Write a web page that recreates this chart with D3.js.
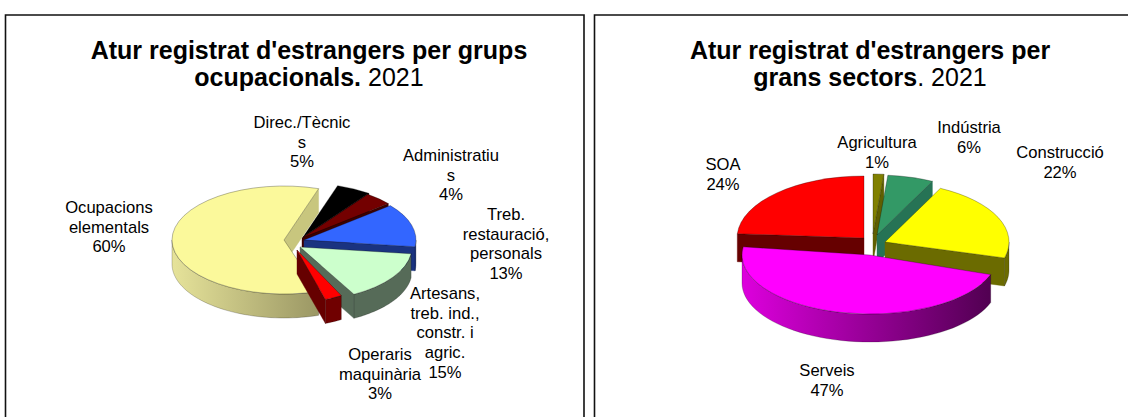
<!DOCTYPE html>
<html><head><meta charset="utf-8">
<script src="https://cdn.jsdelivr.net/npm/d3@7/dist/d3.min.js"></script>
<style>html,body{margin:0;padding:0;background:#fff}svg{display:block}text{font-family:"Liberation Sans",Arial,sans-serif;fill:#000}</style>
</head><body><svg id="c" width="1128" height="417"></svg>
<script>
const occupationCategories = ["Direc./Tècnics","Administratius","Treb. restauració, personals","Artesans, treb. ind., constr. i agric.","Operaris maquinària","Ocupacions elementals"];
const occupationValues = [5,4,13,15,3,60];
const sectorCategories = ["Agricultura","Indústria","Construcció","Serveis","SOA"];
const sectorValues = [1.4,6,22,47,24];

const occupationStyle = [
 {top:"#000000",cut:"#000000",w0:"#000000",w1:"#000000",ax:303,ay:237},
 {top:"#730000",cut:"#3c0000",w0:"#3c0000",w1:"#3c0000",ax:302,ay:238},
 {top:"#3366ff",cut:"#1a3380",w0:"#1a3380",w1:"#1a3380",ax:304,ay:240},
 {top:"#ccffcc",cut:"#566b58",w0:"#566b58",w1:"#566b58",ax:300,ay:247},
 {top:"#ff0000",cut:"#660000",w0:"#700000",w1:"#700000",ax:297,ay:250,rx:92,ry:52},
 {top:"#fbf99b",cut:"#c8c67e",w0:"#e6e39a",w1:"#736f48",ax:284,ay:240}
];
const sectorStyle = [
 {top:"#808000",cut:"#5f5f00",w0:"#606000",w1:"#606000",ax:873,ay:234},
 {top:"#339966",cut:"#267355",w0:"#267355",w1:"#267355",ax:877,ay:235},
 {top:"#ffff00",cut:"#6b6b00",w0:"#808000",w1:"#6b6b00",ax:885,ay:242},
 {top:"#ff00ff",cut:"#800080",w0:"#dd00dd",w1:"#4d004d",ax:870,ay:255,rx:128,ry:59,rot:4},
 {top:"#ff0000",cut:"#660000",w0:"#660000",w1:"#660000",ax:864,ay:238,rx:127,ry:62}
];

const svg = d3.select("#c");
const defs = svg.append("defs");
const rad = Math.PI/180;

function frame(d){
  svg.append("path").attr("d",d).attr("fill","none").attr("stroke","#111").attr("stroke-width",1.6);
}
frame("M5.5,417V15H584V417");
frame("M594.5,417V15H1128");

function title(cx,lines){
  lines.forEach((l,i)=>{
    const t=svg.append("text").attr("x",cx).attr("y",58.5+i*27.5).attr("text-anchor","middle").attr("font-size",25);
    t.append("tspan").attr("font-weight","bold").text(l[0]);
    if(l[1]) t.append("tspan").text(l[1]);
  });
}

function pie3d(id,values,style,start,R0,RY,depth){
  const arcs = d3.pie().value(d=>d).sort(null).startAngle(start*rad).endAngle((start+360)*rad)(values);
  const order = arcs.map((a,i)=>i).sort((p,q)=>(-Math.cos((arcs[p].startAngle+arcs[p].endAngle)/2))-(-Math.cos((arcs[q].startAngle+arcs[q].endAngle)/2)));
  order.forEach(i=>{
    const s=style[i], rot=(s.rot||0)*rad;
    const a={startAngle:arcs[i].startAngle+rot,endAngle:arcs[i].endAngle+rot};
    const R=s.rx||R0, ry=s.ry||RY, k=ry/R;
    const arc = d3.arc().innerRadius(0).outerRadius(R);
    const g=svg.append("g").attr("transform",`translate(${s.ax},${s.ay})`);
    const pt=(ang,dy=0)=>[R*Math.sin(ang),-ry*Math.cos(ang)+dy];
    const cut=(ang)=>g.append("path").attr("d",d3.line()([[0,0],pt(ang),pt(ang,depth),[0,depth]])+"Z")
        .attr("fill",s.cut).attr("stroke",s.cut).attr("stroke-width",.4);
    if(Math.sin(a.startAngle)<0) cut(a.startAngle);
    if(Math.sin(a.endAngle)>0) cut(a.endAngle);
    const ranges=[[Math.PI/2,3*Math.PI/2],[Math.PI/2+2*Math.PI,3*Math.PI/2+2*Math.PI]];
    ranges.forEach((r,j)=>{
      const lo=Math.max(r[0],a.startAngle), hi=Math.min(r[1],a.endAngle);
      if(hi<=lo) return;
      const gid=`${id}${i}${j}`;
      const lg=defs.append("linearGradient").attr("id",gid).attr("gradientUnits","userSpaceOnUse")
        .attr("x1",-R).attr("x2",R).attr("y1",0).attr("y2",0);
      lg.append("stop").attr("offset",0).attr("stop-color",s.w0);
      lg.append("stop").attr("offset",1).attr("stop-color",s.w1);
      const n=48, angs=d3.range(n+1).map(q=>lo+(hi-lo)*q/n);
      const poly=angs.map(x=>pt(x)).concat(angs.slice().reverse().map(x=>pt(x,depth)));
      g.append("path").attr("d",d3.line()(poly)+"Z").attr("fill",`url(#${gid})`)
        .attr("stroke","#000").attr("stroke-opacity",.35).attr("stroke-width",.6);
    });
    g.append("path").attr("d",arc(a)).attr("transform",`scale(1,${k})`).attr("fill",s.top)
      .attr("stroke","#000").attr("stroke-opacity",.4).attr("stroke-width",.7).attr("vector-effect","non-scaling-stroke");
  });
}

function label(x,y,lines){
  const t=svg.append("text").attr("font-size",16.6).attr("text-anchor","middle");
  lines.forEach((l,i)=>t.append("tspan").attr("x",x).attr("y",y+i*19.7).text(l));
}
const pct=(vals,i)=>Math.round(vals[i])+"%";

title(309,[["Atur registrat d'estrangers per grups"],["ocupacionals. ","2021"]]);
title(870,[["Atur registrat d'estrangers per"],["grans sectors",". 2021"]]);

pie3d("a",occupationValues,occupationStyle,18,112,54,24);
pie3d("b",sectorValues,sectorStyle,0,124,60,28);

label(302,128,["Direc./Tècnic","s",pct(occupationValues,0)]);
label(451,161,["Administratiu","s",pct(occupationValues,1)]);
label(506,220,["Treb.","restauració,","personals",pct(occupationValues,2)]);
label(445,299,["Artesans,","treb. ind.,","constr. i","agric.",pct(occupationValues,3)]);
label(380,360,["Operaris","maquinària",pct(occupationValues,4)]);
label(109,213,["Ocupacions","elementals",pct(occupationValues,5)]);

label(877,148,[sectorCategories[0],pct(sectorValues,0)]);
label(969,133,[sectorCategories[1],pct(sectorValues,1)]);
label(1060,158,[sectorCategories[2],pct(sectorValues,2)]);
label(827,376,[sectorCategories[3],pct(sectorValues,3)]);
label(723,170,[sectorCategories[4],pct(sectorValues,4)]);
</script></body></html>
